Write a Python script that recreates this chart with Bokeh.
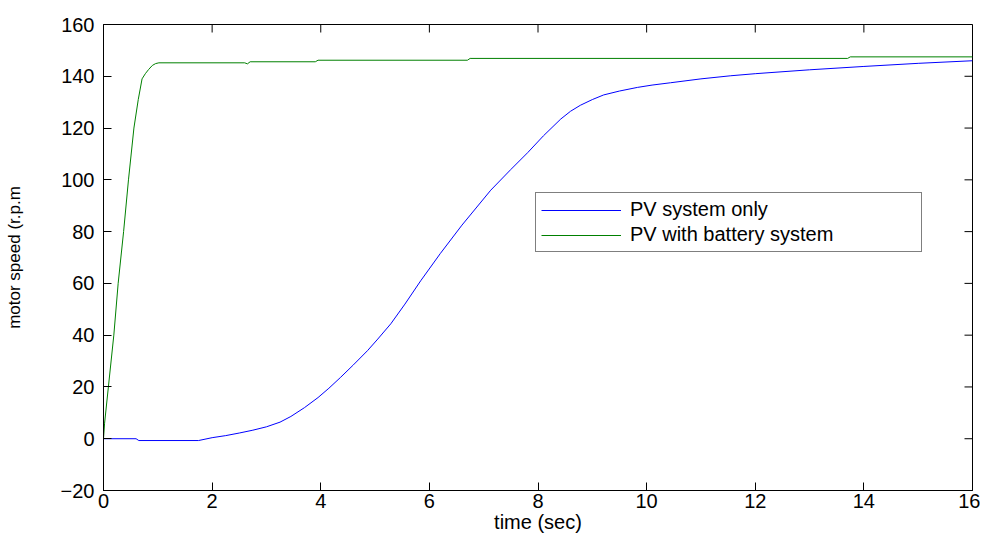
import math
from bokeh.plotting import figure
from bokeh.models import Legend, LegendItem, Range1d, FixedTicker
from bokeh.embed import file_html
from bokeh.resources import INLINE

# PV system only (blue)
t_pv = [0, 0.6, 0.65, 1.75, 2.0, 2.25, 2.5, 2.75, 3.0, 3.25, 3.45, 3.7, 3.95, 4.15, 4.36,
        4.6, 4.86, 5.05, 5.29, 5.55, 5.84, 6.2, 6.6, 7.13, 7.5, 7.81, 8.1, 8.42, 8.6,
        8.78, 9.0, 9.21, 9.5, 9.83, 10.1, 10.44, 11.0, 11.55, 12.0, 13.0, 14.0, 15.0, 16.0]
speed_pv = [0, 0, -0.7, -0.7, 0.4, 1.2, 2.2, 3.3, 4.6, 6.4, 8.6, 12.0, 15.9, 19.5, 23.6,
            28.5, 34, 38.5, 44.4, 52, 61, 71.5, 82.5, 96, 104, 110.5, 117, 123.5, 126.5,
            128.8, 131, 132.8, 134.3, 135.7, 136.6, 137.5, 139, 140.2, 141, 142.5, 143.8, 145, 146]

# PV with battery system (green)
t_bat = [0, 0.02, 0.09, 0.19, 0.27, 0.37, 0.46, 0.56, 0.64, 0.71, 0.77, 0.83, 0.9, 0.96, 1.02,
         2.6, 2.65, 2.7, 3.9, 3.95, 6.7, 6.75, 13.7, 13.75, 16.0]
speed_bat = [0, 6, 20, 40, 60, 80, 100, 120, 131, 139, 141, 142.6, 144.2, 144.9, 145.2,
             145.2, 144.8, 145.6, 145.6, 146.2, 146.2, 146.9, 146.9, 147.5, 147.5]

x_ticks = [0, 2, 4, 6, 8, 10, 12, 14, 16]
y_ticks = [-20, 0, 20, 40, 60, 80, 100, 120, 140, 160]

FONT = "Liberation Sans"

p = figure(width=980, height=535, output_backend="svg", toolbar_location=None,
           x_range=Range1d(x_ticks[0], x_ticks[-1]), y_range=Range1d(y_ticks[0], y_ticks[-1]),
           min_border_left=103, min_border_right=8, min_border_top=24, min_border_bottom=42)
p.background_fill_color = "white"
p.border_fill_color = "white"
p.grid.visible = False
p.outline_line_color = "black"
p.outline_line_width = 1

r1 = p.line(t_pv, speed_pv, line_color="#0000ff", line_width=1)
r2 = p.line(t_bat, speed_bat, line_color="#008000", line_width=1)

# mirrored inward ticks on top and right edges (MATLAB box style)
p.ray(x=x_ticks, y=y_ticks[-1], length=8, length_units="screen", angle=-math.pi / 2,
      line_color="black", line_width=1)
p.ray(x=x_ticks[-1], y=y_ticks, length=8, length_units="screen", angle=math.pi,
      line_color="black", line_width=1)

for ax in [p.xaxis[0], p.yaxis[0]]:
    ax.major_tick_in = 8
    ax.major_tick_out = 0
    ax.minor_tick_in = 0
    ax.minor_tick_out = 0
    ax.axis_line_color = "black"
    ax.major_tick_line_color = "black"
    ax.major_label_text_font = FONT
    ax.major_label_text_font_size = "20px"
    ax.major_label_text_color = "black"
    ax.axis_label_text_font = FONT
    ax.axis_label_text_font_style = "normal"
    ax.axis_label_text_color = "black"

p.xaxis[0].ticker = FixedTicker(ticks=x_ticks)
p.yaxis[0].ticker = FixedTicker(ticks=y_ticks)
p.xaxis[0].axis_label = "time (sec)"
p.xaxis[0].axis_label_text_font_size = "20px"
p.xaxis[0].major_label_standoff = 3
p.xaxis[0].axis_label_standoff = 0
p.yaxis[0].axis_label = "motor speed (r.p.m"
p.yaxis[0].axis_label_text_font_size = "17px"
p.yaxis[0].major_label_standoff = 9
p.yaxis[0].axis_label_standoff = 34

legend = Legend(items=[LegendItem(label="PV system only", renderers=[r1]),
                       LegendItem(label="PV with battery system", renderers=[r2])],
                location=(432, 238), label_text_font=FONT, label_text_font_size="20px",
                label_text_color="black",
                glyph_width=80, glyph_height=18, label_height=20, label_width=286, spacing=2,
                padding=5, margin=0, border_line_color="black", border_line_width=1,
                label_standoff=9, background_fill_alpha=1.0)
p.add_layout(legend, "center")

open("out.html", "w").write(file_html(p, INLINE))
